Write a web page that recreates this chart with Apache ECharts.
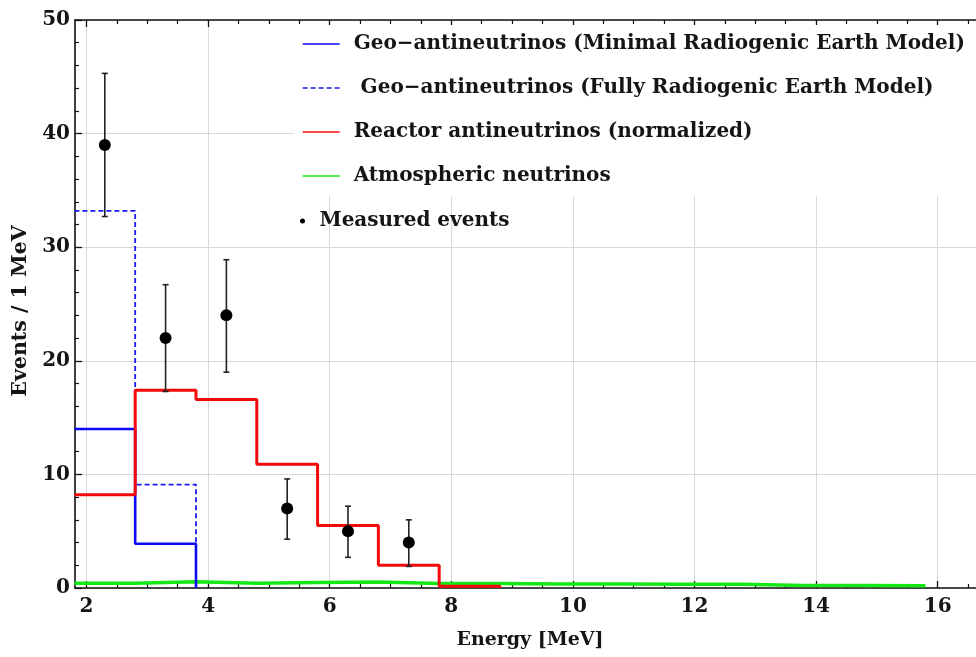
<!DOCTYPE html>
<html>
<head>
<meta charset="utf-8">
<script src="https://cdn.jsdelivr.net/npm/echarts@6/dist/echarts.min.js"></script>
<style>
html,body{margin:0;padding:0;background:#fff;}
#c{width:976px;height:657px;}
</style>
</head>
<body>
<div id="c"></div>
<script>
// ---- data ----
var binEdges = [1.8, 2.8, 3.8, 4.8, 5.8, 6.8, 7.8, 8.8, 9.8, 10.8, 11.8, 12.8, 13.8, 14.8, 15.8];
var geoMinimal = [14.0, 3.9];
var geoMinimalEnd = 0;
var geoFully = [33.2, 9.1];
var geoFullyEnd = 0;
var reactor = [8.2, 17.4, 16.6, 10.9, 5.5, 2.0, 0.15];
var reactorEnd = 0;
var atmospheric = [0.42, 0.55, 0.42, 0.48, 0.52, 0.40, 0.40, 0.36, 0.36, 0.33, 0.32, 0.22, 0.22, 0.20];
var atmosphericEnd = 0.20;

var measuredX = [2.3, 3.3, 4.3, 5.3, 6.3, 7.3];
var measuredY = [39, 22, 24, 7, 5, 4];
var measuredHigh = [45.3, 26.7, 28.9, 9.6, 7.2, 6.0];
var measuredLow = [32.7, 17.3, 19.0, 4.3, 2.7, 1.9];

var xMajorTicks = [2, 4, 6, 8, 10, 12, 14, 16];
var xMinorTicks = [2.5, 3, 3.5, 4.5, 5, 5.5, 6.5, 7, 7.5, 8.5, 9, 9.5, 10.5, 11, 11.5, 12.5, 13, 13.5, 14.5, 15, 15.5, 16.5];

var names = [
  'Geo\u2212antineutrinos (Minimal Radiogenic Earth Model)',
  ' Geo\u2212antineutrinos (Fully Radiogenic Earth Model)',
  'Reactor antineutrinos (normalized)',
  'Atmospheric neutrinos',
  'Measured events'
];

var X_MIN = 1.81, X_MAX = 16.63;
var FONT = '"DejaVu Serif", "Liberation Serif", serif';

function histPoints(values, endValue) {
  var pts = [];
  for (var i = 0; i < values.length; i++) pts.push([binEdges[i], values[i]]);
  pts.push([binEdges[values.length], endValue]);
  return pts;
}

var measured = measuredX.map(function (x, i) { return [x, measuredY[i], measuredLow[i], measuredHigh[i]]; });

var chart = echarts.init(document.getElementById('c'), null, {renderer: 'canvas'});

var baseX = {type: 'value', min: X_MIN, max: X_MAX, gridIndex: 0};
function xa(extra) { return Object.assign({}, baseX, extra); }

var option = {
  backgroundColor: '#ffffff',
  animation: false,
  grid: {left: 75, right: 0, top: 20, bottom: 69, containLabel: false},
  xAxis: [
    xa({
      position: 'bottom',
      minInterval: 2, maxInterval: 2, splitNumber: 7,
      axisLine: {show: true, onZero: false, lineStyle: {color: '#111', width: 1.6}},
      axisTick: {show: true, inside: true, length: 7, customValues: xMajorTicks, lineStyle: {color: '#111', width: 1.3}},
      axisLabel: {show: true, customValues: xMajorTicks, margin: 9, fontFamily: FONT, fontSize: 20, fontWeight: 'bold', color: '#151515'},
      splitLine: {show: true, lineStyle: {color: '#d8d8d8', width: 1}},
      name: 'Energy [MeV]', nameLocation: 'middle', nameGap: 43,
      nameTextStyle: {fontFamily: FONT, fontSize: 19, fontWeight: 'bold', color: '#151515', padding: [0, 0, 0, 9]}
    }),
    xa({
      position: 'bottom',
      axisLine: {show: false, onZero: false},
      axisTick: {show: true, inside: true, length: 4, customValues: xMinorTicks, lineStyle: {color: '#111', width: 1.2}},
      axisLabel: {show: false}, splitLine: {show: false}
    }),
    xa({
      position: 'top',
      axisLine: {show: true, onZero: false, lineStyle: {color: '#111', width: 1.6}},
      axisTick: {show: true, inside: true, length: 7, customValues: xMajorTicks, lineStyle: {color: '#111', width: 1.3}},
      axisLabel: {show: false}, splitLine: {show: false}
    }),
    xa({
      position: 'top',
      axisLine: {show: false, onZero: false},
      axisTick: {show: true, inside: true, length: 4, customValues: xMinorTicks, lineStyle: {color: '#111', width: 1.2}},
      axisLabel: {show: false}, splitLine: {show: false}
    })
  ],
  yAxis: [{
    type: 'value', min: 0, max: 50, interval: 10, position: 'left',
    axisLine: {show: true, onZero: false, lineStyle: {color: '#111', width: 1.6}},
    axisTick: {show: true, inside: true, length: 7, lineStyle: {color: '#111', width: 1.3}},
    minorTick: {show: true, splitNumber: 5, length: 4, lineStyle: {color: '#111', width: 1.2}},
    axisLabel: {margin: 5, fontFamily: FONT, fontSize: 20, fontWeight: 'bold', color: '#151515'},
    splitLine: {show: true, lineStyle: {color: '#d8d8d8', width: 1}},
    name: 'Events / 1 MeV', nameLocation: 'middle', nameGap: 42, nameRotate: 90,
    nameTextStyle: {fontFamily: FONT, fontSize: 20.5, fontWeight: 'bold', color: '#151515', padding: [0, 14, 0, 0]}
  }],
  legend: [
    {
      data: names.slice(0, 4),
      orient: 'vertical', left: 294, top: 25,
      padding: [5, 300, 6, 8],
      backgroundColor: '#ffffff',
      itemWidth: 37, itemHeight: 14, itemGap: 16,
      selectedMode: false,
      itemStyle: {opacity: 0},
      lineStyle: {width: 1.3},
      textStyle: {fontFamily: FONT, fontSize: 20, fontWeight: 'bold', color: '#151515', lineHeight: 28, padding: [0, 0, 0, 9]}
    },
    {
      data: [{name: names[4], icon: 'circle'}],
      orient: 'vertical', left: 300, top: 207, padding: 0,
      itemWidth: 12, itemHeight: 5,
      selectedMode: false,
      textStyle: {fontFamily: FONT, fontSize: 20, fontWeight: 'bold', color: '#151515', lineHeight: 28, padding: [0, 0, 0, 6]}
    }
  ],
  series: [
    {
      name: names[3], type: 'line', step: 'end', symbol: 'none', xAxisIndex: 0, yAxisIndex: 0,
      data: histPoints(atmospheric, atmosphericEnd),
      lineStyle: {color: '#14e814', width: 3.5}, itemStyle: {color: '#14e814'}, z: 3
    },
    {
      name: names[1], type: 'line', step: 'end', symbol: 'none', xAxisIndex: 0, yAxisIndex: 0,
      data: histPoints(geoFully, geoFullyEnd),
      lineStyle: {color: '#1a1aee', width: 1.8, type: [5, 3]}, itemStyle: {color: '#1a1aee'}, z: 3
    },
    {
      name: names[0], type: 'line', step: 'end', symbol: 'none', xAxisIndex: 0, yAxisIndex: 0,
      data: histPoints(geoMinimal, geoMinimalEnd),
      lineStyle: {color: '#0a0af5', width: 2.6}, itemStyle: {color: '#0a0af5'}, z: 4
    },
    {
      name: names[2], type: 'line', step: 'end', symbol: 'none', xAxisIndex: 0, yAxisIndex: 0,
      data: histPoints(reactor, reactorEnd),
      lineStyle: {color: '#f20a0a', width: 3}, itemStyle: {color: '#f20a0a'}, z: 5
    },
    {
      name: 'errors', type: 'custom', xAxisIndex: 0, yAxisIndex: 0, z: 6,
      data: measured,
      renderItem: function (params, api) {
        var x = api.value(0);
        var lo = api.coord([x, api.value(2)]);
        var hi = api.coord([x, api.value(3)]);
        var cap = 3;
        var st = {stroke: '#222', lineWidth: 1.6};
        return {type: 'group', children: [
          {type: 'line', shape: {x1: lo[0], y1: lo[1], x2: hi[0], y2: hi[1]}, style: st},
          {type: 'line', shape: {x1: lo[0] - cap, y1: lo[1], x2: lo[0] + cap, y2: lo[1]}, style: st},
          {type: 'line', shape: {x1: hi[0] - cap, y1: hi[1], x2: hi[0] + cap, y2: hi[1]}, style: st}
        ]};
      }
    },
    {
      name: names[4], type: 'scatter', xAxisIndex: 0, yAxisIndex: 0, z: 7,
      symbol: 'circle', symbolSize: 12,
      data: measured.map(function (d) { return [d[0], d[1]]; }),
      itemStyle: {color: '#000', opacity: 1}
    }
  ]
};
chart.setOption(option);
</script>
</body>
</html>
